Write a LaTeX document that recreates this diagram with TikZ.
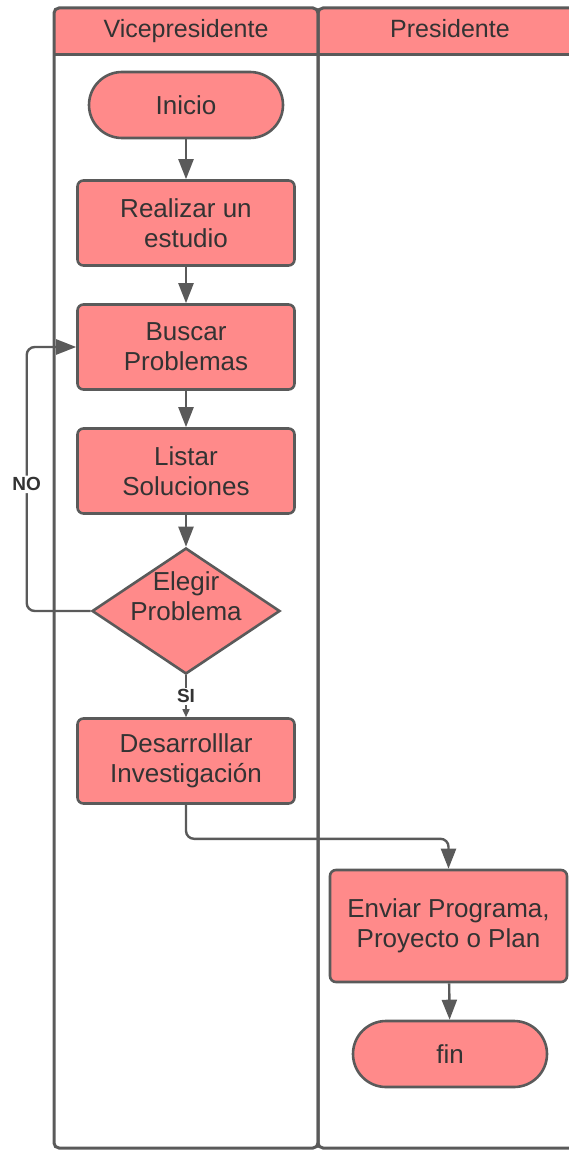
\documentclass[tikz,border=0pt]{standalone}
\usepackage{fontspec}
\setmainfont{Liberation Sans}
\usetikzlibrary{arrows.meta,shapes.geometric}
\definecolor{boxfill}{HTML}{FF8A8A}
\definecolor{edge}{HTML}{5A5A5A}
\definecolor{ink}{HTML}{333333}
\begin{document}
\begin{tikzpicture}[x=1pt,y=-1pt,
  every node/.style={font=\fontsize{26}{30}\selectfont, text=ink},
  proc/.style={draw=edge, line width=2.6pt, fill=boxfill, rounded corners=6pt,
    minimum width=217pt, minimum height=85pt, align=center, inner sep=0pt},
  term/.style={draw=edge, line width=2.6pt, fill=boxfill, rounded corners=33pt,
    minimum width=194pt, minimum height=66pt, inner sep=0pt},
  dia/.style={diamond, draw=edge, line width=2.6pt, fill=boxfill,
    minimum width=188pt, minimum height=126pt, inner sep=0pt},
  flow/.style={draw=edge, line width=2.4pt, rounded corners=8pt,
    -{Triangle[length=20pt,width=15pt]}},
  lane/.style={draw=edge, line width=3pt},
  tag/.style={font=\bfseries\fontsize{19}{22}\selectfont, fill=white, inner sep=2pt},
  head/.style={font=\fontsize{25}{30}\selectfont, anchor=base}
]
\useasboundingbox (0,0) rectangle (569,1150);
\clip (0,0) rectangle (569,1150);

% swimlane headers
\fill[boxfill] (54,55) {[rounded corners=5pt] -- (54,8) -- (318,8)} -- (318,55) -- cycle;
\fill[boxfill] (318,55) {[rounded corners=5pt] -- (318,8) -- (620,8)} -- (620,55) -- cycle;
% swimlane frames
\draw[lane, rounded corners=5pt] (54,8) rectangle (318,1148);
\draw[lane, rounded corners=5pt] (318,8) rectangle (620,1148);
\draw[lane] (54,55) -- (620,55);
\node[head] (vice) at (186,38) {Vicepresidente};
\node[head] (pres) at (450,38) {Presidente};

% process steps
\node[term] (inicio) at (186,105) {Inicio};
\node[proc] (estudio) at (186,223) {Realizar un\\estudio};
\node[proc] (buscar) at (186,347) {Buscar\\Problemas};
\node[proc] (listar) at (186,471) {Listar\\Soluciones};
\node[dia] (elegir) at (186,611) {};
\node[align=center] (elegirtxt) at (186,596) {Elegir\\Problema};
\node[proc] (desarrollar) at (186,761) {Desarrolllar\\Investigación};
\node[proc, minimum width=237pt, minimum height=112pt] (enviar) at (448.5,926) {Enviar Programa,\\Proyecto o Plan};
\node[term] (fin) at (450,1054) {fin};

% connectors
\draw[flow] (inicio) -- (estudio);
\draw[flow] (estudio) -- (buscar);
\draw[flow] (buscar) -- (listar);
\draw[flow] (listar) -- (elegir);
\draw[draw=edge, line width=1.6pt, -{Triangle[length=8pt,width=7pt]}] (elegir.south) -- node[tag] (si) {SI} (desarrollar.north);
\draw[flow] (elegir.west) -- ++(-64,0) |- node[tag, pos=0.24] (no) {NO} (buscar.west);
\draw[flow] (desarrollar.south) -- ++(0,34) -| (enviar.north);
\draw[flow] (enviar) -- (fin);
\end{tikzpicture}
\end{document}
